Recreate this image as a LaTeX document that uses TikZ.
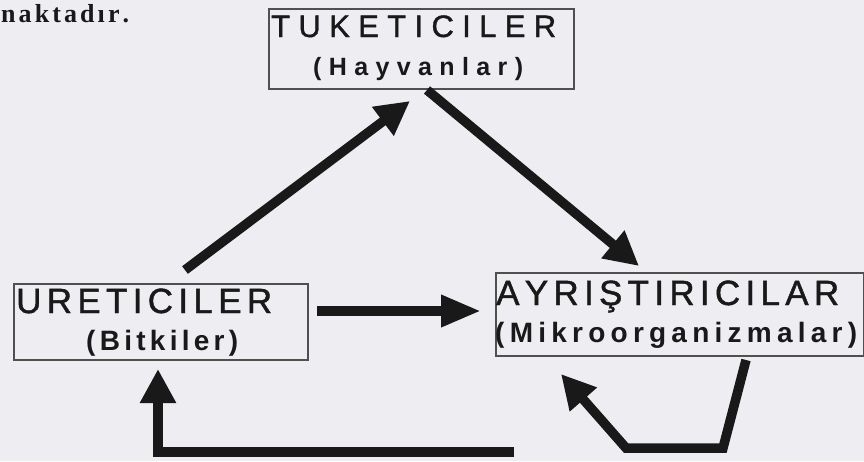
\documentclass[tikz,border=0pt]{standalone}
\usepackage{fontspec}
\setmainfont{Liberation Sans}
\newfontfamily\serifbold{Liberation Serif}
\newfontfamily\capsfont[FakeBold=1.2]{Liberation Sans}
\usetikzlibrary{arrows.meta}
\definecolor{paper}{RGB}{237,237,242}
\definecolor{ink}{RGB}{25,25,25}
\definecolor{boxline}{RGB}{80,80,80}
\newcommand\spr[2]{\makebox[#1][s]{\spaceskip=0pt plus 1fil\relax #2}}
\tikzset{
  boxnode/.style={draw=boxline, line width=1.6pt, inner sep=0pt, anchor=north west},
  lbl/.style={anchor=base west, inner sep=0pt, text=ink},
  bigarrow/.style={draw=ink, line width=9.5pt, line join=miter,
    -{Triangle[length=34pt,width=34pt]}},
}
\begin{document}
\begin{tikzpicture}[x=1pt,y=-1pt]
\fill[paper] (0,0) rectangle (864,461);
\useasboundingbox (0,0) rectangle (864,461);
% top-left running text
\node[lbl, font=\serifbold\bfseries\fontsize{26}{26}\selectfont] (nak) at (1,22) {\spr{128pt}{n a k t a d ı r .}};
% boxes
\node[boxnode, minimum width=305pt, minimum height=80pt] (tuk) at (268,8) {};
\node[boxnode, minimum width=294pt, minimum height=76pt] (ure) at (13,283) {};
\node[boxnode, minimum width=368pt, minimum height=83pt] (ayr) at (495,272) {};
% texts
\node[lbl, font=\capsfont\fontsize{31}{31}\selectfont] (tukA) at (271,37) {\spr{285pt}{T U K E T I C I L E R}};
\node[lbl, font=\bfseries\fontsize{25}{25}\selectfont] (tukB) at (313,75) {\spr{210pt}{( H a y v a n l a r )}};
\node[lbl, font=\capsfont\fontsize{35}{35}\selectfont] (ureA) at (16,313) {\spr{256pt}{U R E T I C I L E R}};
\node[lbl, font=\bfseries\fontsize{28}{28}\selectfont] (ureB) at (86,350) {\spr{152pt}{( B i t k i l e r )}};
\node[lbl, font=\capsfont\fontsize{35}{35}\selectfont] (ayrA) at (496,305) {\spr{343pt}{A Y R I Ş T I R I C I L A R}};
\node[lbl, font=\bfseries\fontsize{28}{28}\selectfont] (ayrB) at (495,342) {\spr{362pt}{( M i k r o o r g a n i z m a l a r )}};
% arrow end points
\coordinate (a1s) at (185,270);
\coordinate (a1e) at (410,101);
\coordinate (a2s) at (427,90);
\coordinate (a2e) at (639,266);
\coordinate (a3s) at (317,311);
\coordinate (a3e) at (481,311);
\coordinate (a4s) at (514,452);
\coordinate (a4c) at (158,452);
\coordinate (a4e) at (158,369);
\coordinate (a5s) at (746,360);
\coordinate (a5c) at (723,448);
\coordinate (a5d) at (626,448);
\coordinate (a5e) at (561,374);
% arrows
\draw[bigarrow] (a1s) -- (a1e);
\draw[bigarrow] (a2s) -- (a2e);
\draw[bigarrow, -{Triangle[length=40pt,width=30pt]}] (a3s) -- (a3e);
\draw[bigarrow] (a4s) -- (a4c) -- (a4e);
\draw[bigarrow] (a5s) -- (a5c) -- (a5d) -- (a5e);
\end{tikzpicture}
\end{document}
